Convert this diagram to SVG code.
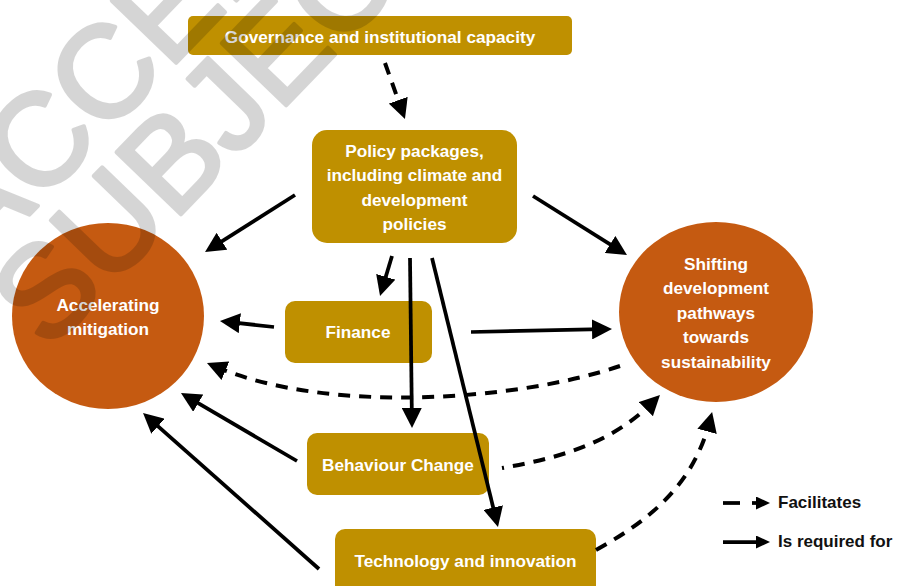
<svg xmlns="http://www.w3.org/2000/svg" width="899" height="586" viewBox="0 0 899 586">
<style>
.box{fill:#BF9000}
.circ{fill:#C55A11}
.lbl{font-family:"Liberation Sans",Arial,sans-serif;font-weight:bold;font-size:17.2px;fill:#FFFFFF;text-anchor:middle}
.leg{font-family:"Liberation Sans",Arial,sans-serif;font-weight:bold;font-size:17px;fill:#111111}
.solid{fill:none;stroke:#000;stroke-width:3.75}
.dash{fill:none;stroke:#000;stroke-width:4;stroke-dasharray:12 9}
.wm{font-family:"Liberation Sans",Arial,sans-serif;font-weight:normal;font-size:130px;fill:#000;stroke:#000;stroke-width:4;stroke-linejoin:round}
</style>
<defs>
<marker id="ah" markerUnits="userSpaceOnUse" viewBox="0 0 20 20" markerWidth="20" markerHeight="20" refX="10" refY="10" orient="auto">
<path d="M0,0 L20,10 L0,20 z" fill="#000"/>
</marker>
<marker id="ahs" markerUnits="userSpaceOnUse" viewBox="0 0 14 13" markerWidth="14" markerHeight="13" refX="5" refY="6.5" orient="auto">
<path d="M0,0 L14,6.5 L0,13 z" fill="#000"/>
</marker>
</defs>
<rect width="899" height="586" fill="#FFFFFF"/>

<g id="governance">
<rect class="box" x="188" y="16" width="384" height="39" rx="5"/>
<text class="lbl" x="380" y="42.5">Governance and institutional capacity</text>
</g>
<g id="policy">
<rect class="box" x="312" y="130" width="205" height="113" rx="15"/>
<text class="lbl" x="414.5" y="157">Policy packages,</text>
<text class="lbl" x="414.5" y="181.3">including climate and</text>
<text class="lbl" x="414.5" y="205.6">development</text>
<text class="lbl" x="414.5" y="229.9">policies</text>
</g>
<g id="finance">
<rect class="box" x="285" y="301" width="147" height="62" rx="10"/>
<text class="lbl" x="358" y="338">Finance</text>
</g>
<g id="behaviour">
<rect class="box" x="307" y="433" width="182" height="62" rx="10"/>
<text class="lbl" x="398" y="471">Behaviour Change</text>
</g>
<g id="technology">
<rect class="box" x="335" y="529" width="261" height="70" rx="10"/>
<text class="lbl" x="465.5" y="567">Technology and innovation</text>
</g>
<g id="accelerating">
<ellipse class="circ" cx="108" cy="316" rx="96" ry="93"/>
<text class="lbl" x="108" y="311">Accelerating</text>
<text class="lbl" x="108" y="335">mitigation</text>
</g>
<g id="shifting">
<ellipse class="circ" cx="716" cy="312" rx="97" ry="90"/>
<text class="lbl" x="716" y="269.5">Shifting</text>
<text class="lbl" x="716" y="294">development</text>
<text class="lbl" x="716" y="318.5">pathways</text>
<text class="lbl" x="716" y="343">towards</text>
<text class="lbl" x="716" y="367.5">sustainability</text>
</g>

<g id="connectors">
<path class="dash" d="M385,63 L401.6,109.6" marker-end="url(#ah)"/>
<path class="solid" d="M295,195 L213.5,246.6" marker-end="url(#ah)"/>
<path class="solid" d="M533,196 L618.5,249.7" marker-end="url(#ah)"/>
<path class="solid" d="M392,256 L382.9,286.4" marker-end="url(#ah)"/>
<path class="solid" d="M410,258 L411.9,418" marker-end="url(#ah)"/>
<path class="solid" d="M432,258 L495.6,517.3" marker-end="url(#ah)"/>
<path class="solid" d="M274,327 L229.9,322.1" marker-end="url(#ah)"/>
<path class="solid" d="M471,332 L602,329.2" marker-end="url(#ah)"/>
<path class="dash" d="M620,366 C520,400 330,415 216.2,366.9" marker-end="url(#ah)"/>
<path class="solid" d="M297,461 L189.6,398.1" marker-end="url(#ah)"/>
<path class="dash" d="M502,468 C560,458 612,443 652.9,402.1" stroke-dashoffset="10" marker-end="url(#ah)"/>
<path class="solid" d="M319,569 L150.5,419.6" marker-end="url(#ah)"/>
<path class="dash" d="M596,550 C650,520 693,485 709.6,421.7" marker-end="url(#ah)"/>
</g>

<g id="legend">
<path class="solid" d="M723,503 L740,503"/>
<path class="solid" d="M752,503 L761,503" marker-end="url(#ahs)"/>
<text class="leg" x="778" y="508">Facilitates</text>
<path class="solid" d="M723,542 L761,542" marker-end="url(#ahs)"/>
<text class="leg" x="778" y="547">Is required for</text>
</g>

<g id="watermark" opacity="0.16">
<text class="wm" transform="translate(-22,268) rotate(-46)">ACCEPTED</text>
<text class="wm" transform="translate(48,352) rotate(-46)">SUBJECT</text>
</g>
</svg>
